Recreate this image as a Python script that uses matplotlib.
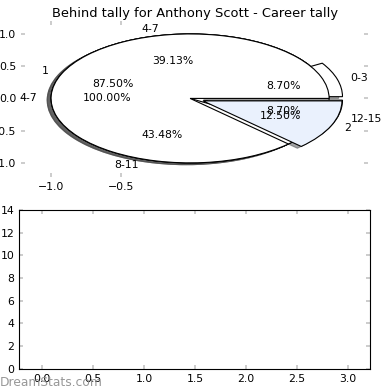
import matplotlib
matplotlib.use("Agg")
import matplotlib.pyplot as plt

# career tally pie
tally_labels = ["0-3", "4-7", "8-11", "12-15"]
tally_values = [2, 9, 10, 2]
tally_explode = [0.1, 0, 0, 0.1]

# behind tally pie
behind_labels = ["1", "2"]
behind_values = [7, 1]
behind_explode = [0, 0.1]

# single slice pie
single_labels = ["4-7"]
single_values = [1]

title = "Behind tally for Anthony Scott - Career tally"
top_yticks = [-1.0, -0.5, 0.0, 0.5, 1.0]
top_xticks = [-1.0, -0.5]
bottom_xticks = [0.0, 0.5, 1.0, 1.5, 2.0, 2.5, 3.0]
bottom_yticks = [0, 2, 4, 6, 8, 10, 12, 14]

fig = plt.figure(figsize=(3.9, 3.9), dpi=100)
ax1 = fig.add_axes([0.054, 0.546, 0.89, 0.4])
ax2 = fig.add_axes([0.0495, 0.054, 0.9, 0.408])

wedge_style = {"edgecolor": "black", "linewidth": 0.8}
text_style = {"fontsize": 7.8}

ax1.pie(single_values, labels=single_labels, autopct="%1.2f%%", colors=["white"],
        shadow=True, wedgeprops=wedge_style, textprops=text_style, frame=True)
ax1.pie(tally_values, labels=tally_labels, autopct="%1.2f%%", explode=tally_explode,
        colors=["white"] * 4, shadow=True, wedgeprops=wedge_style,
        textprops=text_style, frame=True)
ax1.pie(behind_values, labels=behind_labels, autopct="%1.2f%%", explode=behind_explode,
        colors=["white", "#eaf1fd"], shadow=True, wedgeprops=wedge_style,
        textprops=text_style, frame=True)

ax1.set_aspect("auto")
ax1.set_xlim(-1.216, 1.281)
ax1.set_ylim(-1.22, 1.2)
ax1.set_xticks(top_xticks)
ax1.set_yticks(top_yticks)
for s in ax1.spines.values():
    s.set_visible(False)
ax1.tick_params(direction="in", length=3, width=1.2, color="#c4c4c4",
                labelsize=7.8, top=True, right=True)
ax1.set_title(title, fontsize=9.4, pad=3)

ax2.set_xlim(-0.223, 3.218)
ax2.set_ylim(0, 14)
ax2.set_xticks(bottom_xticks)
ax2.set_yticks(bottom_yticks)
ax2.tick_params(direction="in", length=3, width=1.2, color="#c4c4c4",
                labelsize=7.8, top=True, right=True)
for s in ax2.spines.values():
    s.set_linewidth(0.8)

fig.text(0.0, 0.01, "DreamStats.com", fontsize=8.8, color="#8c8c8c", alpha=0.9)

fig.savefig("out.png", dpi=100)
